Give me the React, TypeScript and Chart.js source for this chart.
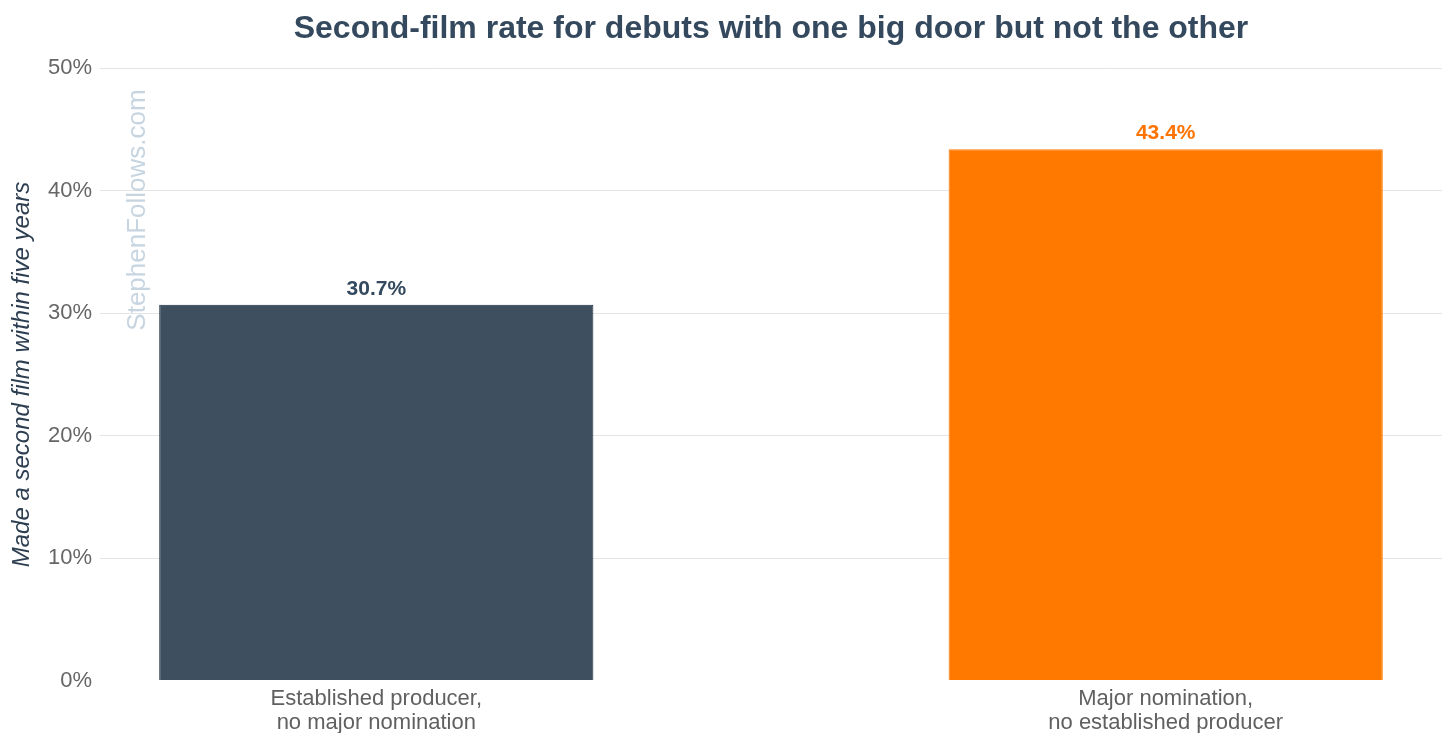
import React, { useRef, useEffect } from "react";
import Chart from "chart.js/auto";

const categories = [
  ["Established producer,", "no major nomination"],
  ["Major nomination,", "no established producer"],
];
const rates = [30.7, 43.4];
const barColors = ["#3e5060", "#ff7800"];
const barBorders = ["#1e2d3b", "#ff7800"];
const labelColors = ["#34495e", "#ff7300"];
const yTicks = [0, 10, 20, 30, 40, 50];

const FONT = "'Liberation Sans', Arial, sans-serif";

const valueLabels = {
  id: "valueLabels",
  afterDatasetsDraw(chart: any) {
    const ctx = chart.ctx;
    const meta = chart.getDatasetMeta(0);
    ctx.save();
    ctx.font = `bold 21px ${FONT}`;
    ctx.textAlign = "center";
    ctx.textBaseline = "alphabetic";
    meta.data.forEach((bar: any, i: number) => {
      ctx.fillStyle = labelColors[i];
      ctx.fillText(rates[i].toFixed(1) + "%", bar.x, bar.y - 10);
    });
    // watermark
    ctx.translate(138, 210);
    ctx.rotate(-Math.PI / 2);
    ctx.font = `26px ${FONT}`;
    ctx.fillStyle = "#c7d5e1";
    ctx.textBaseline = "middle";
    ctx.fillText("StephenFollows.com", 0, 0);
    ctx.restore();
  },
};

const App: React.FC = () => {
  const chartRef = useRef<HTMLCanvasElement>(null);

  useEffect(() => {
    document.body.style.margin = "0";
    if (!chartRef.current) return;
    const ctx = chartRef.current.getContext("2d");
    if (!ctx) return;
    const chart = new Chart(ctx, {
      type: "bar",
      data: {
        datasets: [
          {
            data: rates.map((v, i) => ({ x: i, y: v })),
            backgroundColor: barColors,
            borderColor: barBorders,
            borderWidth: 1,
            barPercentage: 0.55,
            categoryPercentage: 1,
          },
        ],
      },
      options: {
        animation: false,
        responsive: true,
        maintainAspectRatio: false,
        layout: { padding: { left: 6, right: 14, bottom: 15 } },
        scales: {
          x: {
            type: "linear",
            min: -0.35,
            max: 1.35,
            offset: false,
            grid: { display: false },
            border: { display: false },
            afterBuildTicks: (scale: any) => {
              scale.ticks = categories.map((_, i) => ({ value: i }));
            },
            ticks: {
              autoSkip: false,
              maxRotation: 0,
              padding: -2,
              color: "#606060",
              font: { family: FONT, size: 22, lineHeight: 1.1 },
              callback: (v: any) => categories[v] ?? "",
            },
          },
          y: {
            min: 0,
            max: 50,
            afterBuildTicks: (scale: any) => {
              scale.ticks = yTicks.map((v) => ({ value: v }));
            },
            afterFit: (scale: any) => {
              scale.width = 94;
            },
            grid: {
              color: (c: any) => (c.tick && c.tick.value === 0 ? "rgba(0,0,0,0)" : "#e4e4e4"),
              drawTicks: false,
            },
            border: { display: false },
            ticks: {
              padding: 8,
              color: "#666666",
              font: { family: FONT, size: 22 },
              callback: (v: any) => v + "%",
            },
            title: {
              display: true,
              text: "Made a second film within five years",
              color: "#2c3e50",
              padding: { top: 2, bottom: 0 },
              font: { family: FONT, size: 24, style: "italic" },
            },
          },
        },
        plugins: {
          legend: { display: false },
          tooltip: { enabled: false },
          title: {
            display: true,
            fullSize: false,
            text: "Second-film rate for debuts with one big door but not the other",
            color: "#34495e",
            padding: { top: 10, bottom: 20 },
            font: { family: FONT, size: 32, weight: "bold" },
          },
        },
      },
      plugins: [valueLabels],
    });
    return () => {
      chart.destroy();
    };
  }, []);

  return (
    <div style={{ width: 1456, height: 748, background: "#fff", position: "relative" }}>
      <canvas ref={chartRef} />
    </div>
  );
};

export default App;
